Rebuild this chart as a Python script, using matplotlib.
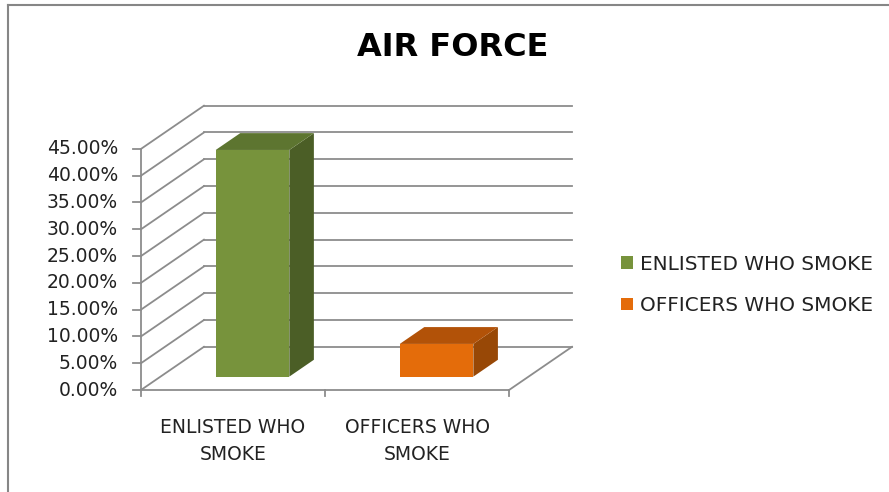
import matplotlib
matplotlib.use("Agg")
import matplotlib.pyplot as plt
from matplotlib.patches import Polygon, Patch

# data
categories = ["ENLISTED WHO\nSMOKE", "OFFICERS WHO\nSMOKE"]
series = ["ENLISTED WHO SMOKE", "OFFICERS WHO SMOKE"]
values = [42.3, 6.1]
yticks = [0, 5, 10, 15, 20, 25, 30, 35, 40, 45]
ytick_labels = ["%.2f%%" % t for t in yticks]

front_cols = ["#77933C", "#E46C0A"]
side_cols = ["#4B5E26", "#984806"]
top_cols = ["#5D7530", "#B25208"]

W, H = 889, 492
DX = 0.342   # depth offset in category units
DY = 8.06    # depth offset in percent units
D0, D1 = 0.31, 0.70   # bar depth range
BW = 0.40
GRID = "#8C8C8C"

def proj(x, y, d):
    return (x + d * DX, y + d * DY)

fig = plt.figure(figsize=(W / 100, H / 100), dpi=100)
plt.rcParams['font.family'] = 'DejaVu Sans'
ax = fig.add_axes([141 / W, (H - 390) / H, 431 / W, (390 - 105.7) / H])
ax.set_xlim(0, 2 + DX)
ax.set_ylim(0, 45 + DY)
ax.axis("off")

px_x = (2 + DX) / 431.0
px_y = (45 + DY) / (390 - 105.7)

# walls / gridlines
for t in yticks:
    ax.plot([DX, 2 + DX], [t + DY, t + DY], color=GRID, lw=1.3, clip_on=False, zorder=1)
    ax.plot([0, DX], [t, t + DY], color=GRID, lw=1.3, clip_on=False, zorder=1)
    ax.plot([-8 * px_x, 0], [t, t], color=GRID, lw=1.3, clip_on=False, zorder=1)
ax.plot([0, 0], [0, 45], color=GRID, lw=1.3, clip_on=False, zorder=1)
ax.plot([0, 2], [0, 0], color=GRID, lw=1.3, clip_on=False, zorder=1)
ax.plot([2, 2 + DX], [0, DY], color=GRID, lw=1.3, clip_on=False, zorder=1)
for i in range(len(categories) + 1):
    ax.plot([i, i], [0, -6 * px_y], color=GRID, lw=1.3, clip_on=False, zorder=1)

for t, lab in zip(yticks, ytick_labels):
    ax.text(-23 * px_x, t, lab, ha="right", va="center", fontsize=13.5, color="#222222")

# 3d-looking bars
for i, v in enumerate(values):
    x0 = i + 0.5 - BW / 2
    x1 = i + 0.5 + BW / 2
    front = [proj(x0, 0, D0), proj(x1, 0, D0), proj(x1, v, D0), proj(x0, v, D0)]
    side = [proj(x1, 0, D0), proj(x1, 0, D1), proj(x1, v, D1), proj(x1, v, D0)]
    top = [proj(x0, v, D0), proj(x1, v, D0), proj(x1, v, D1), proj(x0, v, D1)]
    ax.add_patch(Polygon(side, closed=True, fc=side_cols[i], ec="none", zorder=3, clip_on=False))
    ax.add_patch(Polygon(top, closed=True, fc=top_cols[i], ec="none", zorder=3, clip_on=False))
    ax.add_patch(Polygon(front, closed=True, fc=front_cols[i], ec="none", zorder=4, clip_on=False))

for i, lab in enumerate(categories):
    ax.text(i + 0.5, -28 * px_y, lab, ha="center", va="top", fontsize=13.5,
            linespacing=1.5, color="#222222")

fig.text(453 / W, 1 - 47.5 / H, "AIR FORCE", ha="center", va="center",
         fontsize=23, fontweight="bold", color="black")

handles = [Patch(fc=c, ec="none") for c in front_cols]
fs = 14.4
em = fs * 100 / 72.0
fig.legend(handles, series, loc="upper left", bbox_to_anchor=(621 / W, 1 - (264.5 - em / 2) / H),
           frameon=False, fontsize=fs, borderpad=0, borderaxespad=0,
           handlelength=12 / em, handleheight=12 / em, handletextpad=7 / em,
           labelspacing=(42.5 - em) / em, labelcolor="#222222")

# chart border (top and left edges visible)
fig.add_artist(plt.Line2D([8 / W, 1], [1 - 5 / H, 1 - 5 / H], color="#868686", lw=1.5))
fig.add_artist(plt.Line2D([8 / W, 8 / W], [0, 1 - 5 / H], color="#868686", lw=1.5))

fig.savefig("out.png", dpi=100)
